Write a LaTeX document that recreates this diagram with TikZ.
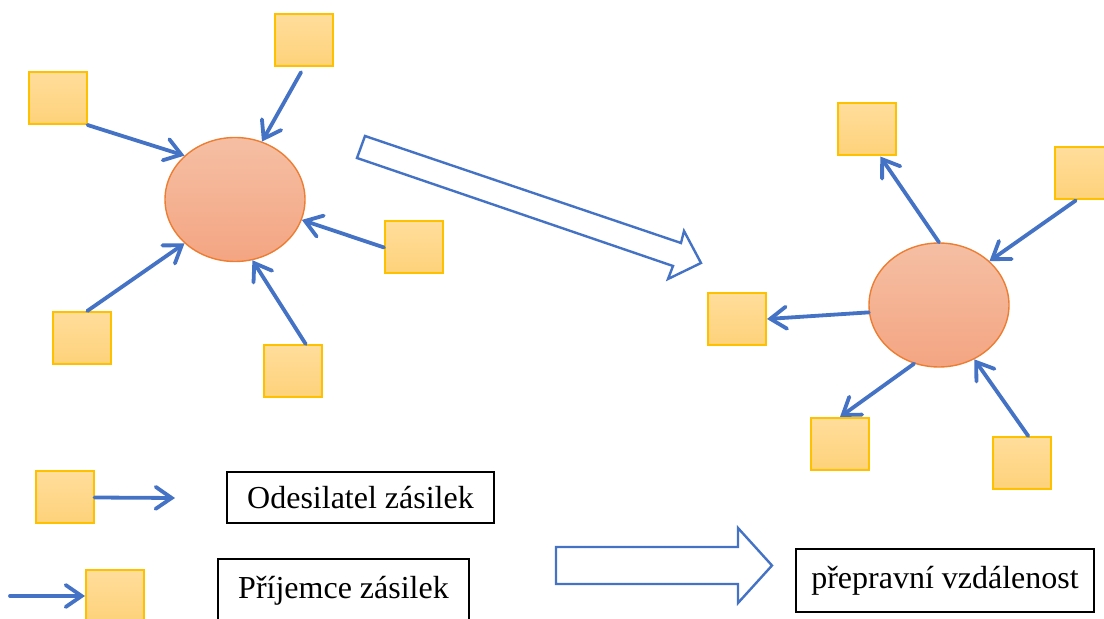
\documentclass[tikz,border=0pt]{standalone}
\usepackage{fontspec}
\setmainfont{Liberation Serif}
\usetikzlibrary{shapes.geometric,arrows.meta}
\definecolor{linkblue}{RGB}{68,114,196}
\definecolor{boxgold}{RGB}{255,192,0}
\definecolor{boxtop}{RGB}{255,221,155}
\definecolor{boxbot}{RGB}{254,210,122}
\definecolor{hubline}{RGB}{237,125,49}
\definecolor{hubtop}{RGB}{245,191,164}
\definecolor{hubbot}{RGB}{244,165,130}
\begin{document}
\begin{tikzpicture}[x=0.5pt, y=-0.5pt,
    place/.style={rectangle, draw=boxgold, line width=1pt, top color=boxtop, bottom color=boxbot, minimum width=29pt, minimum height=26pt, inner sep=0pt},
    hub/.style={ellipse, draw=hubline, line width=0.7pt, top color=hubtop, bottom color=hubbot, minimum width=70pt, minimum height=62pt, inner sep=0pt},
    link/.style={draw=linkblue, line width=1.9pt, line cap=round, -{Straight Barb[length=8pt, width=11pt, line cap=round]}},
    label/.style={rectangle, draw=black, line width=0.6pt, font=\fontsize{16}{19}\selectfont, inner sep=0pt},
    hollow/.style={draw=linkblue, line width=1.2pt, line join=miter}]
      \clip (0,0) rectangle (1104,619);
      \node (c1) at (235,199.5) [hub] {};
      \node (c2) at (939,305) [hub] {};
      \node (s1) at (57.5,98) [place] {};
      \node (s2) at (304,40) [place] {};
      \node (s3) at (414,247.5) [place] {};
      \node (s4) at (82,338) [place] {};
      \node (s5) at (292.5,371) [place] {};
      \node (r1) at (866.5,129.5) [place] {};
      \node (r2) at (1084,173.5) [place] {};
      \node (r3) at (737,319) [place] {};
      \node (r4) at (840,444) [place] {};
      \node (r5) at (1021.5,463) [place] {};
      \node (l1) at (64.5,497.5) [place] {};
      \node (l2) at (115,596) [place] {};
      \coordinate (l1end) at (175,498);
      \coordinate (l2start) at (10,596);
      \node (sender) at (360.5,497.5) [label, minimum width=133.5pt, minimum height=25.5pt] {Odesilatel zásilek};
      \node (receiver) at (343.5,591) [label, minimum width=125.5pt, minimum height=32pt] {Příjemce zásilek};
      \node (distance) at (945,580.5) [label, minimum width=149pt, minimum height=31.5pt] {přepravní vzdálenost};
      \foreach \source/\dest in {s1.south east/c1.139, s3.west/c1.-17, s4.79/c1.221, s5.64/c1.-74, r2.253/c2.41, r5.76/c2.-57, c2.north/r1.-63, c2.186/r3.east, c2.247/r4.north, l1.east/l1end, l2start/l2.west}
        \path[link] (\source) -- (\dest);
      \path[link, shorten <=3pt] (s2.south) -- (c1.65);
      \draw[hollow] (365,136) -- (681,243) -- (684,231) -- (701,263) -- (668,279) -- (673,266) -- (357,158) -- cycle;
      \draw[hollow] (556,547) -- (738,547) -- (738,528) -- (772,565.5) -- (738,603) -- (738,584) -- (556,584) -- cycle;
    \end{tikzpicture}
\end{document}
